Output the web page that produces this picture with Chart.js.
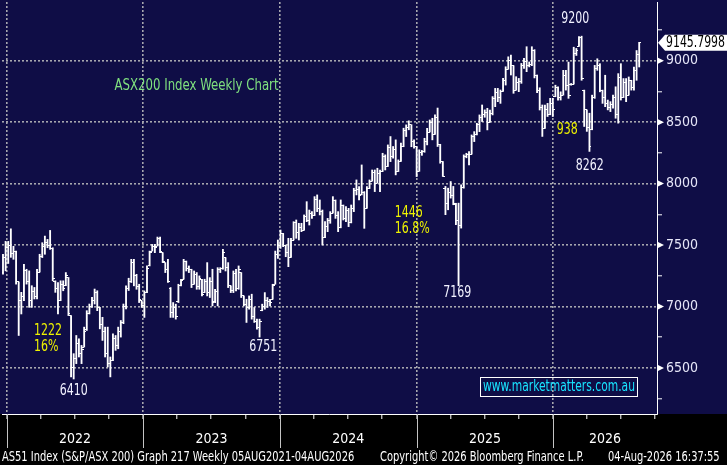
<!DOCTYPE html>
<html><head><meta charset="utf-8">
<script src="https://cdn.jsdelivr.net/npm/chart.js"></script>
<style>html,body{margin:0;padding:0;background:#000;overflow:hidden}canvas{display:block}</style>
</head><body>
<canvas id="c" width="727" height="465"></canvas>
<script>
// ---------- DATA ----------
const firstWeek = [2021, 11, 22]; // date of the first weekly bar (y, month0, d)
const opens = [7280,7400,7480,7500,7430,7450,7200,7050,7080,7290,
7200,7050,7120,7080,7280,7410,7490,7520,7500,7470,
7200,7150,7050,7180,7170,7236,6926,6500,6580,6700,
6620,6670,6810,6940,7000,7050,7110,6990,6850,6800,
6620,6540,6560,6740,6680,6800,6870,7000,7150,7200,
7360,7250,7160,7046,7010,7113,7330,7451,7490,7492,
7550,7438,7357,7300,7150,6950,6990,7040,7170,7222,
7370,7310,7300,7181,7260,7160,7222,7113,7200,7110,
7200,7040,7120,7300,7310,7397,7320,7168,7130,7270,
7150,7276,7086,7020,6990,7060,6920,6880,6830,6965,
7000,7050,7040,7059,7181,7420,7500,7590,7500,7440,
7400,7541,7680,7600,7640,7620,7730,7700,7760,7740,
7870,7800,7770,7560,7650,7700,7760,7860,7740,7640,
7820,7720,7780,7680,7800,7940,7950,7910,7930,7800,
7960,8020,8090,8003,8080,8100,8220,8140,8290,8220,
8280,8100,8180,8300,8430,8460,8480,8340,8300,8100,
8250,8260,8340,8420,8500,8400,8540,8320,8180,7960,
7840,7930,7900,7828,7700,7660,7970,8220,8240,8240,
8380,8400,8480,8540,8560,8580,8500,8570,8690,8740,
8700,8750,8840,8930,9000,8960,8760,8820,8830,8960,
8990,8960,8970,9080,8880,8760,8620,8450,8600,8560,
8650,8710,8780,8700,8720,8880,8800,8805,8810,9060,
9116,9190,8760,8600,8460,8440,8700,8940,8960,8760,
8700,8650,8620,8640,8700,8560,8860,8700,8820,8720,
8840,8780,8920,9050];
const highs = [7425,7530,7530,7632,7490,7451,7200,7115,7344,7303,
7290,7169,7155,7303,7425,7519,7573,7546,7619,7478,
7209,7195,7209,7209,7276,7236,6926,6616,6764,6737,
6683,6832,6966,7020,7074,7142,7128,6993,6912,6832,
6832,6589,6778,6764,6832,6886,7020,7169,7230,7384,
7384,7262,7181,7046,7127,7330,7451,7505,7505,7565,
7565,7438,7357,7384,7154,7032,7019,7181,7222,7384,
7370,7330,7303,7289,7276,7249,7222,7222,7357,7235,
7303,7140,7316,7316,7465,7397,7357,7168,7289,7303,
7330,7276,7086,7059,7086,7100,6992,6897,6897,7019,
7113,7073,7059,7181,7451,7541,7622,7595,7500,7555,
7555,7690,7704,7677,7677,7745,7853,7785,7772,7894,
7908,7867,7785,7690,7717,7772,7894,7867,7772,7867,
7826,7813,7799,7826,7962,8030,7976,8152,7935,7976,
8030,8111,8111,8125,8111,8247,8234,8315,8383,8302,
8356,8193,8329,8451,8478,8511,8480,8356,8300,8275,
8270,8369,8450,8518,8532,8559,8615,8320,8180,7977,
7963,8017,7977,7840,7841,7990,8234,8247,8261,8396,
8423,8491,8559,8640,8600,8613,8599,8708,8775,8775,
8762,8857,8951,9032,9046,8960,8870,8856,8978,9019,
9114,8990,9114,9090,8884,8780,8640,8640,8653,8694,
8694,8801,8788,8747,8922,8922,8989,8815,9110,9100,
9196,9200,8761,8600,8573,8720,8962,9016,8976,8761,
8882,8680,8667,8720,8788,8895,8976,8855,8855,8868,
8841,8949,9083,9150];
const lows = [7263,7290,7350,7400,7384,7182,6764,6939,7047,7182,
6993,6993,7061,7061,7280,7398,7425,7478,7465,7209,
7115,6939,7047,7128,7169,6926,6427,6410,6535,6589,
6535,6670,6805,6939,6993,7020,6966,6818,6724,6589,
6508,6427,6560,6643,6656,6751,6860,6980,7130,7195,
7168,7140,7032,6992,6911,7113,7330,7451,7438,7492,
7438,7357,7276,7195,6911,6911,6897,7032,7168,7222,
7289,7276,7154,7181,7140,7140,7086,7113,7086,7073,
7005,7032,7005,7276,7303,7289,7154,7113,7113,7127,
7140,7073,7005,6870,6978,6897,6870,6816,6751,6965,
6978,6992,7005,7059,7181,7391,7473,7487,7405,7324,
7400,7541,7555,7541,7609,7620,7690,7663,7717,7740,
7772,7745,7500,7560,7609,7677,7760,7717,7609,7640,
7704,7690,7650,7680,7772,7908,7867,7908,7636,7799,
7960,8020,7935,8003,7935,8098,8111,8139,8179,8207,
8071,8098,8180,8300,8383,8438,8300,8288,8057,8100,
8230,8255,8315,8420,8356,8400,8302,8166,8058,7747,
7787,7882,7828,7666,7169,7638,7963,8210,8153,8240,
8342,8396,8423,8505,8540,8437,8500,8559,8626,8667,
8653,8750,8802,8930,8884,8735,8760,8748,8816,8938,
8911,8950,8960,8860,8740,8599,8384,8450,8546,8560,
8546,8707,8680,8680,8720,8761,8694,8801,8810,9043,
9116,8841,8465,8425,8262,8438,8694,8922,8747,8653,
8626,8600,8586,8613,8532,8492,8680,8700,8667,8720,
8761,8761,8841,8949];
const closes = [7400,7480,7500,7430,7450,7200,7050,7080,7290,7200,
7050,7120,7080,7280,7410,7490,7520,7500,7470,7230,
7150,7050,7180,7150,7250,6940,6500,6580,6700,6620,
6650,6800,6940,7000,7050,7110,6990,6850,6800,6620,
6540,6560,6740,6680,6800,6870,7000,7150,7200,7360,
7250,7160,7060,7010,7110,7310,7440,7490,7480,7550,
7450,7370,7300,7200,6950,6990,6920,7170,7210,7370,
7310,7300,7180,7260,7160,7230,7100,7200,7110,7200,
7030,7120,7300,7310,7440,7320,7170,7130,7270,7150,
7300,7090,7020,6990,7060,6920,6880,6830,6880,7000,
7050,7040,7030,7170,7420,7500,7590,7500,7440,7400,
7540,7680,7600,7640,7620,7730,7700,7760,7740,7870,
7800,7770,7560,7650,7700,7760,7860,7740,7640,7820,
7720,7780,7680,7800,7940,7950,7900,7930,7800,7960,
8020,8090,8000,8080,8100,8220,8140,8290,8220,8280,
8100,8180,8300,8430,8460,8480,8340,8300,8100,8250,
8260,8340,8420,8500,8400,8540,8320,8180,8060,7840,
7930,7900,7840,7700,7660,7970,8220,8240,8240,8380,
8400,8480,8540,8560,8580,8500,8570,8690,8740,8700,
8750,8840,8930,9000,8960,8760,8820,8830,8960,8990,
8960,8970,9080,8880,8760,8620,8450,8600,8560,8650,
8600,8780,8700,8720,8880,8800,8720,8810,9060,9080,
9190,8855,8600,8460,8300,8700,8940,8960,8760,8700,
8650,8620,8640,8700,8560,8860,8700,8820,8720,8840,
8780,8920,9050,9145.7998];
const yearLabels = ['2022','2023','2024','2025','2026'];
const yMajorTicks = [6500,7000,7500,8000,8500,9000];
const yMinorTicks = [6250,6750,7250,7750,8250,8750,9250];
const notes = [
  {t:'9200', x:218.6, y:9340, c:'w', a:'center'},
  {t:'938', x:215.5, y:8433, c:'y', a:'center'},
  {t:'8262', x:224.1, y:8142, c:'w', a:'center'},
  {t:'7169', x:173.5, y:7105, c:'w', a:'center'},
  {t:'1446', x:149.6, y:7761, c:'y', a:'left'},
  {t:'16.8%', x:149.6, y:7631, c:'y', a:'left'},
  {t:'6751', x:99.4, y:6668, c:'w', a:'center'},
  {t:'1222', x:11.8, y:6801, c:'y', a:'left'},
  {t:'16%', x:11.8, y:6668, c:'y', a:'left'},
  {t:'6410', x:27.0, y:6311, c:'w', a:'center'},
  {t:'ASX200 Index Weekly Chart', x:42.6, y:8790, c:'g', a:'left', fit:164}
];
const footer = [
  {t:'AS51 Index (S&P/ASX 200) Graph 217 Weekly 05AUG2021-04AUG2026', x:2, w:356},
  {t:'Copyright\u00A9 2026 Bloomberg Finance L.P.', x:380, w:208},
  {t:'04-Aug-2026 16:37:55', x:608, w:116}
];
const watermark = 'www.marketmatters.com.au';

// ---------- STYLE ----------
const NAVY = '#0f0d46', GRID = '#a6a6ae';
const COLORS = {w:'#f2f2ff', y:'#eef200', g:'#7fe07f'};
function hasFont(name){
  const c = document.createElement('canvas').getContext('2d');
  const s = 'AS51 Index 0123456789 Weekly Chart';
  c.font = '40px monospace'; const a = c.measureText(s).width;
  c.font = '40px serif'; const b = c.measureText(s).width;
  c.font = '40px "' + name + '", monospace'; const a2 = c.measureText(s).width;
  c.font = '40px "' + name + '", serif'; const b2 = c.measureText(s).width;
  return Math.abs(a - a2) > 0.5 || Math.abs(b - b2) > 0.5;
}
let NARROW = null;
for (const f of ['Liberation Sans Narrow','Arial Narrow','DejaVu Sans Condensed','Roboto Condensed']) { if (hasFont(f)) { NARROW = f; break; } }
const F = NARROW ? '"' + NARROW + '"' : '"Liberation Sans", Arial, sans-serif';
// horizontal squeeze so that a 4-digit number at 15px is ~28px wide, as in the reference
const measure = (txt, size) => { const c = document.createElement('canvas').getContext('2d'); c.font = size + 'px ' + F; return c.measureText(txt).width; };
const SQ = Math.min(1, 28 / measure('9000', 15));
const TFS = 14;
Chart.defaults.font.family = F;

const DAY = 864e5;
const t0 = Date.UTC(firstWeek[0], firstWeek[1], firstWeek[2]);
const wk = (y, m, d = 1) => (Date.UTC(y, m, d) - t0) / (7 * DAY);
const X_MIN = -0.38, X_MAX = 249.8;

function xTicks(){
  const out = [];
  yearLabels.forEach(lab => {
    const y = +lab;
    [0,3,6,9].forEach(m => { const v = wk(y, m); if (v >= X_MIN && v <= X_MAX) out.push({value:v, kind: m === 0 ? 'year' : 'q'}); });
    const a = Math.max(wk(y,0), X_MIN), b = Math.min(wk(y+1,0), X_MAX);
    out.push({value:(a+b)/2, kind:'lbl', text:lab});
  });
  return out.sort((p,q) => p.value - q.value);
}

function tickImg(side){
  const c = document.createElement('canvas'); c.width = 4; c.height = 1;
  const g = c.getContext('2d'); g.fillStyle = '#fff';
  if (side < 0) g.fillRect(0,0,2,1); else g.fillRect(2,0,2,1);
  return c;
}

function narrowText(g, text, x, y, align, color, size, maxW, fit){
  g.save();
  g.fillStyle = color; g.textBaseline = 'middle'; g.textAlign = align;
  g.font = size + 'px ' + F;
  const k = fit ? fit / g.measureText(text).width : SQ;
  g.translate(x, y); g.scale(k, 1);
  if (maxW) g.fillText(text, 0, 0, maxW / k); else g.fillText(text, 0, 0);
  g.restore();
}

const decor = {
  id: 'decor',
  beforeDraw(ch){
    const g = ch.ctx; g.save();
    g.fillStyle = '#000'; g.fillRect(0, 0, ch.width, ch.height);
    g.fillStyle = NAVY; g.fillRect(0, 0, ch.width, ch.chartArea.bottom);
    g.restore();
  },
  beforeDatasetsDraw(ch){ ch.ctx.imageSmoothingEnabled = false; },
  afterDatasetsDraw(ch){
    ch.ctx.imageSmoothingEnabled = true;
    const g = ch.ctx, xs = ch.scales.x, ys = ch.scales.y;
    notes.forEach(n => narrowText(g, n.t, xs.getPixelForValue(n.x), ys.getPixelForValue(n.y), n.a, COLORS[n.c], 15, null, n.fit));
  },
  afterDraw(ch){
    const g = ch.ctx, xs = ch.scales.x, ys = ch.scales.y, A = ch.chartArea;
    g.save();
    // long year-boundary lines under the axis
    g.strokeStyle = '#c4c4c4'; g.lineWidth = 1;
    yearLabels.forEach(l => {
      const v = wk(+l, 0); if (v < X_MIN || v > X_MAX) return;
      const px = Math.round(xs.getPixelForValue(v)) + 0.5;
      g.beginPath(); g.moveTo(px, A.bottom); g.lineTo(px, A.bottom + 34); g.stroke();
    });
    // arrow markers at major y ticks
    g.fillStyle = '#fff';
    yMajorTicks.forEach(v => {
      const py = ys.getPixelForValue(v);
      g.beginPath(); g.moveTo(A.right + 1, py - 3); g.lineTo(A.right + 7, py); g.lineTo(A.right + 1, py + 3); g.closePath(); g.fill();
    });
    // last price callout
    const last = closes[closes.length - 1];
    const py = ys.getPixelForValue(last);
    g.fillStyle = '#fff';
    g.beginPath(); g.moveTo(A.right + 1, py); g.lineTo(A.right + 8, py - 8); g.lineTo(ch.width, py - 8); g.lineTo(ch.width, py + 8); g.lineTo(A.right + 8, py + 8); g.closePath(); g.fill();
    narrowText(g, last.toFixed(4), A.right + 9, py + 0.5, 'left', '#000', 15, 59);
    // watermark box
    g.strokeStyle = '#fff'; g.lineWidth = 1;
    g.strokeRect(480.5, 377.5, 157, 19);
    narrowText(g, watermark, 559, 387.5, 'center', '#18e4ff', 15, 152);
    // footer
    footer.forEach(f => narrowText(g, f.t, f.x, 457, 'left', '#ffffff', 13.5, f.w));
    g.restore();
  }
};

const hlData = highs.map((h, i) => ({x: i, y: [lows[i], h]}));
const openData = opens.map((o, i) => ({x: i, y: o}));
const closeData = closes.map((c, i) => ({x: i, y: c}));

new Chart(document.getElementById('c'), {
  type: 'bar',
  data: {
    datasets: [
      {type:'bar', data: hlData, backgroundColor:'#ffffff', borderWidth:0, barThickness:1.2},
      {type:'scatter', data: openData, pointStyle: tickImg(-1), pointRadius:1, pointHoverRadius:1, showLine:false},
      {type:'scatter', data: closeData, pointStyle: tickImg(1), pointRadius:1, pointHoverRadius:1, showLine:false}
    ]
  },
  options: {
    responsive:false, animation:false, devicePixelRatio:1,
    layout:{padding:0},
    plugins:{legend:{display:false}, tooltip:{enabled:false}},
    events:[],
    scales:{
      x:{
        type:'linear', min:X_MIN, max:X_MAX, offset:false,
        afterBuildTicks: s => { s.ticks = xTicks(); },
        afterFit: s => { s.height = 51; s.paddingLeft = s.paddingRight = s.paddingTop = s.paddingBottom = 0; },
        ticks:{autoSkip:false, maxRotation:0, minRotation:0, padding:12, color:'#ffffff', font:{family:F, size:TFS},
          callback:(v, i, t) => (t[i] && t[i].kind === 'lbl') ? t[i].text : ''},
        grid:{offset:false, drawOnChartArea:true, drawTicks:true, tickLength:5, lineWidth:1.6, tickWidth:1,
          color: c => (c.tick && c.tick.kind === 'year') ? GRID : 'rgba(0,0,0,0)',
          tickColor: c => (c.tick && c.tick.kind === 'lbl') ? 'rgba(0,0,0,0)' : ((c.tick && c.tick.kind === 'year') ? '#c4c4c4' : '#ffffff')},
        border:{display:true, color:'#ffffff', width:1, dash:[2,2]}
      },
      y:{
        position:'right', min:6125, max:9478, beginAtZero:false,
        afterBuildTicks: s => { s.ticks = yMajorTicks.concat(yMinorTicks).sort((a,b)=>a-b).map(v => ({value:v})); },
        afterFit: s => { s.width = 70; s.paddingLeft = s.paddingRight = s.paddingTop = s.paddingBottom = 0; },
        ticks:{padding:4, color:'#e6e6f8', font:{family:F, size:TFS}, callback: v => yMajorTicks.includes(v) ? String(v) : ''},
        grid:{drawTicks:true, tickLength:5, lineWidth:1.6, tickWidth:1,
          color: c => (c.tick && yMajorTicks.includes(c.tick.value)) ? GRID : 'rgba(0,0,0,0)',
          tickColor:'#ffffff'},
        border:{display:true, color:'#ffffff', width:1, dash:[2,2]}
      }
    }
  },
  plugins:[decor]
});
</script>
</body></html>
